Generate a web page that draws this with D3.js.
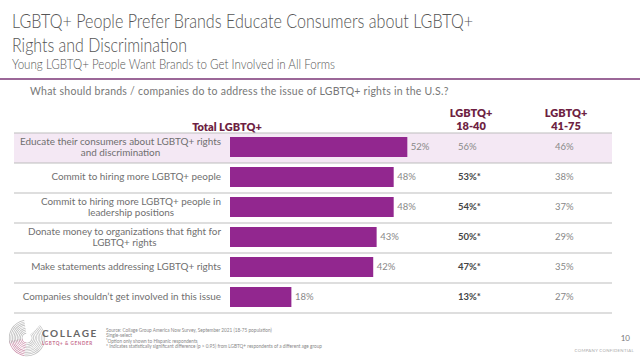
<!DOCTYPE html>
<html><head><meta charset="utf-8">
<script src="https://cdn.jsdelivr.net/npm/d3@7"></script>
<style>
html,body{margin:0;padding:0;background:#fff;}
svg{display:block;font-family:Lato,"Open Sans",sans-serif;}
</style></head>
<body>
<svg id="c" width="640" height="360"></svg>
<script>
const titleLines = ["LGBTQ+ People Prefer Brands Educate Consumers about LGBTQ+", "Rights and Discrimination"];
const subtitle = "Young LGBTQ+ People Want Brands to Get Involved in All Forms";
const question = "What should brands / companies do to address the issue of LGBTQ+ rights in the U.S.?";
const categories = [
  ["Educate their consumers about LGBTQ+ rights", "and discrimination"],
  ["Commit to hiring more LGBTQ+ people"],
  ["Commit to hiring more LGBTQ+ people in", "leadership positions"],
  ["Donate money to organizations that fight for", "LGBTQ+ rights"],
  ["Make statements addressing LGBTQ+ rights"],
  ["Companies shouldn\u2019t get involved in this issue"]
];
const totalValues = [52, 48, 48, 43, 42, 18];
const youngValues = [56, 53, 54, 50, 47, 13];
const youngSignificant = [false, true, true, true, true, true];
const olderValues = [46, 38, 37, 29, 35, 27];
const seriesHeaders = [["Total LGBTQ+"], ["LGBTQ+", "18-40"], ["LGBTQ+", "41-75"]];
const footnotes = [
  "Source: Collage Group America Now Survey, September 2021 (18-75 population)",
  "Single-select",
  "\u00b9Option only shown to Hispanic respondents",
  "* Indicates statistically significant difference (p > 0.95) from LGBTQ+ respondents of a different age group"
];

const svg = d3.select("#c");
const purple = "#92278f", maroon = "#6e1f43", grey = "#6f6f6f";

// fit text to a target width by compressing glyphs
function fit(sel, w) {
  const n = sel.node();
  if (n.getComputedTextLength() > w) sel.attr("textLength", w).attr("lengthAdjust", "spacingAndGlyphs");
  return sel;
}

// Title
const titleWidths = [461, 175];
titleLines.forEach((t, i) => {
  fit(svg.append("text").attr("x", 12).attr("y", 28 + i * 23.5).attr("font-size", 19.5).attr("font-weight", 300)
    .attr("fill", "#555").text(t), titleWidths[i]);
});
fit(svg.append("text").attr("x", 12).attr("y", 68.5).attr("font-size", 13.5).attr("font-weight", 300)
  .attr("fill", "#555").text(subtitle), 323);
svg.append("line").attr("x1", 0).attr("x2", 640).attr("y1", 79).attr("y2", 79)
  .attr("stroke", "#7a3576").attr("stroke-width", 1.5);
svg.append("text").attr("x", 30).attr("y", 95).attr("font-size", 10.5).attr("font-weight", 400)
  .attr("fill", "#777").attr("letter-spacing", 0.25).text(question);

const rowIdx = d3.range(categories.length);
const x = d3.scaleLinear().domain([0, 100]).range([230, 571]);
const y = d3.scaleBand().domain(rowIdx).range([133, 313]).padding(0);
const left = 14, right = 612;

// highlighted row
svg.append("rect").attr("x", left).attr("y", y(0)).attr("width", right - left)
  .attr("height", y.bandwidth()).attr("fill", "#f4e8f4");

// row lines
svg.selectAll("line.row").data([0, ...rowIdx.map(i => i + 1)]).join("line")
  .attr("class", "row").attr("x1", left).attr("x2", right)
  .attr("y1", d => (d < categories.length ? y(d) : y(d - 1) + y.bandwidth()))
  .attr("y2", d => (d < categories.length ? y(d) : y(d - 1) + y.bandwidth()))
  .attr("stroke", "#bdbdbd").attr("stroke-width", 1);

// bars
svg.selectAll("rect.bar").data(totalValues).join("rect").attr("class", "bar")
  .attr("x", x(0)).attr("y", (d, i) => y(i) + 4).attr("height", 20)
  .attr("width", d => x(d) - x(0)).attr("fill", purple);
svg.selectAll("text.tv").data(totalValues).join("text").attr("class", "tv")
  .attr("x", d => x(d) + 3.5).attr("y", (d, i) => y(i) + y.bandwidth() / 2 - 1)
  .attr("dy", "0.35em").attr("font-size", 9.5).attr("fill", "#888").text(d => d + "%");

// category labels (center-aligned block, right edge at 221)
const labelRight = 221;
categories.forEach((lines, i) => {
  const t = svg.append("text").attr("font-size", 9.9).attr("fill", grey).attr("text-anchor", "middle");
  const cy = y(i) + y.bandwidth() / 2 - 1;
  const ts = t.selectAll("tspan").data(lines).join("tspan")
    .attr("dy", (d, k) => k === 0 ? (lines.length === 1 ? "0.35em" : "-0.25em") : "1.2em")
    .text(d => d);
  t.attr("y", cy);
  const w = ts.nodes()[0].getComputedTextLength();
  ts.attr("x", labelRight - w / 2);
});

// other columns
const col1 = 458, col2 = 555;
svg.selectAll("text.yv").data(youngValues).join("text").attr("class", "yv")
  .attr("x", col1).attr("y", (d, i) => y(i) + y.bandwidth() / 2 - 1).attr("dy", "0.35em")
  .attr("font-size", 9.5)
  .attr("font-weight", (d, i) => youngSignificant[i] ? 700 : 400)
  .attr("fill", (d, i) => youngSignificant[i] ? "#444" : "#888")
  .text((d, i) => d + "%" + (youngSignificant[i] ? "*" : ""));
svg.selectAll("text.ov").data(olderValues).join("text").attr("class", "ov")
  .attr("x", col2).attr("y", (d, i) => y(i) + y.bandwidth() / 2 - 1).attr("dy", "0.35em")
  .attr("font-size", 9.5).attr("fill", "#888").text(d => d + "%");

// headers
const headerPos = [[227, 131], [471, 117], [566, 117]];
seriesHeaders.forEach((lines, i) => {
  svg.append("text").attr("text-anchor", "middle").attr("font-size", 11).attr("font-weight", 800)
    .attr("fill", maroon)
    .selectAll("tspan").data(lines).join("tspan")
    .attr("x", headerPos[i][0]).attr("y", (d, k) => headerPos[i][1] + k * 13).text(d => d);
});

// footer logo
const logo = svg.append("g").attr("transform", "translate(27,338)");
const radii = d3.range(5, 18, 1.6);
radii.forEach(r => {
  const arcG = d3.arc().innerRadius(r - 0.35).outerRadius(r + 0.35);
  logo.append("path").attr("d", arcG({startAngle: 0.25 * Math.PI, endAngle: 1.05 * Math.PI}))
    .attr("fill", "#c0c0c0");
  logo.append("path").attr("d", arcG({startAngle: 1.05 * Math.PI, endAngle: 1.45 * Math.PI}))
    .attr("fill", "#c98aa6");
  logo.append("path").attr("d", arcG({startAngle: -0.6 * Math.PI, endAngle: -0.05 * Math.PI}))
    .attr("fill", "#b8b8b8");
});
svg.append("text").attr("x", 42).attr("y", 337).attr("font-size", 10).attr("font-weight", 700)
  .attr("letter-spacing", 1.6).attr("fill", "#666").text("COLLAGE");
svg.append("text").attr("x", 42).attr("y", 344.5).attr("font-size", 4.6).attr("font-weight", 700)
  .attr("letter-spacing", 0.6).attr("fill", "#c7708f").text("LGBTQ+ & GENDER");

svg.append("g").selectAll("text").data(footnotes).join("text")
  .attr("x", 106).attr("y", (d, i) => 332 + i * 5.3).attr("font-size", 4.7).attr("fill", "#888")
  .text(d => d);

svg.append("text").attr("x", 630).attr("y", 341).attr("text-anchor", "end").attr("font-size", 8)
  .attr("fill", "#777").text("10");
svg.append("text").attr("x", 634).attr("y", 352).attr("text-anchor", "end").attr("font-size", 4.3)
  .attr("letter-spacing", 0.3).attr("fill", "#aaa").text("COMPANY CONFIDENTIAL");
</script>
</body></html>
